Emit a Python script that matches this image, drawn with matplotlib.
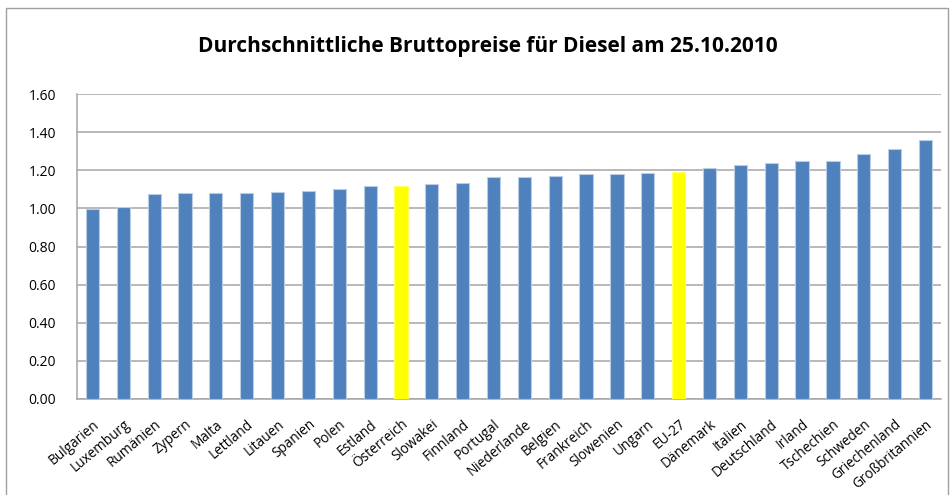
import matplotlib
matplotlib.use("Agg")
import matplotlib.pyplot as plt
from matplotlib.patches import Rectangle

countries = [
    "Bulgarien", "Luxemburg", "Rumänien", "Zypern", "Malta", "Lettland",
    "Litauen", "Spanien", "Polen", "Estland", "Österreich", "Slowakei",
    "Finnland", "Portugal", "Niederlande", "Belgien", "Frankreich",
    "Slowenien", "Ungarn", "EU-27", "Dänemark", "Italien", "Deutschland",
    "Irland", "Tschechien", "Schweden", "Griechenland", "Großbritannien",
]
prices = [
    0.995, 1.007, 1.073, 1.079, 1.080, 1.080,
    1.086, 1.093, 1.100, 1.119, 1.117, 1.126,
    1.131, 1.165, 1.165, 1.171, 1.178,
    1.178, 1.185, 1.192, 1.211, 1.226, 1.238,
    1.247, 1.247, 1.285, 1.311, 1.359,
]
highlight = ["Österreich", "EU-27"]
yticks = [0.0, 0.2, 0.4, 0.6, 0.8, 1.0, 1.2, 1.4, 1.6]

C_BAR = "#4f81bd"
C_HI = "#ffff00"
C_GRID = "#a6a6a6"

plt.rcParams["font.family"] = ["Open Sans", "DejaVu Sans"]

fig = plt.figure(figsize=(9.52, 4.95), dpi=100)
ax = fig.add_axes([0.0809, 0.194, 0.9075, 0.616])

colors = [C_HI if c in highlight else C_BAR for c in countries]
edges = ["#ffff66" if c in highlight else "#b9cde5" for c in countries]
x = range(len(countries))
ax.bar(x, prices, width=0.43, color=colors, edgecolor=edges, linewidth=0.8, zorder=3)

ax.set_xlim(-0.5, len(countries) - 0.5)
ax.set_ylim(0, 1.6)
ax.set_yticks(yticks)
ax.set_yticklabels([f"{v:.2f}" for v in yticks], fontsize=10)
ax.yaxis.grid(True, color=C_GRID, lw=1.1, zorder=0)
ax.set_xticks(list(x))
ax.set_xticklabels(countries, rotation=40, ha="right", rotation_mode="anchor",
                   fontsize=9.8)
ax.tick_params(axis="y", length=0, pad=15)
ax.tick_params(axis="x", length=0, pad=13)
for s in ("top", "right"):
    ax.spines[s].set_visible(False)
for s in ("left", "bottom"):
    ax.spines[s].set_color(C_GRID)
    ax.spines[s].set_linewidth(1.1)

fig.text(0.512, 0.907, "Durchschnittliche Bruttopreise für Diesel am 25.10.2010",
         ha="center", va="center", fontsize=15, fontweight="bold")

# chart frame
fig.patches.append(Rectangle((6 / 952, -0.1), 942 / 952, 1.1 - 8 / 495,
                             transform=fig.transFigure, fill=False,
                             edgecolor="#a0a0a0", lw=1.0))

fig.savefig("out.png", dpi=100)
